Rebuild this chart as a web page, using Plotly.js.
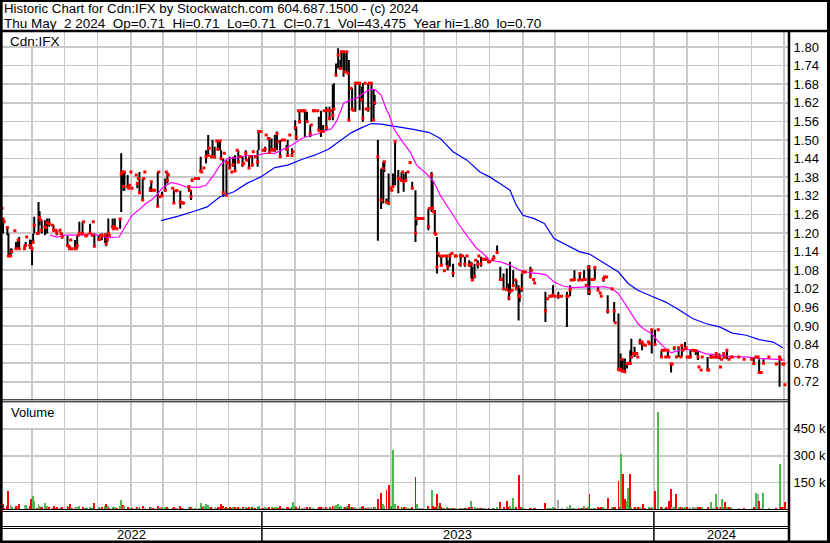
<!DOCTYPE html>
<html><head><meta charset="utf-8">
<script src="https://cdn.plot.ly/plotly-3.0.1.min.js"></script>
<style>html,body{margin:0;padding:0;background:#fff;}#chart{width:830px;height:543px;}</style>
</head><body><div id="chart"></div>
<script>
// ---------------- DATA ----------------
const dates = [
"2022-05-04","2022-05-05","2022-05-06","2022-05-09","2022-05-10","2022-05-12","2022-05-13","2022-05-16","2022-05-17","2022-05-19","2022-05-20","2022-05-25","2022-05-26","2022-05-27","2022-05-30","2022-05-31",
"2022-06-01","2022-06-02","2022-06-03","2022-06-06","2022-06-07","2022-06-08","2022-06-09","2022-06-10","2022-06-13","2022-06-14","2022-06-15","2022-06-17","2022-06-20","2022-06-21","2022-06-23","2022-06-24","2022-06-27","2022-06-28","2022-06-29",
"2022-07-04","2022-07-05","2022-07-06","2022-07-07","2022-07-08","2022-07-11","2022-07-12","2022-07-13","2022-07-14","2022-07-15","2022-07-18","2022-07-19","2022-07-21","2022-07-22","2022-07-25","2022-07-27","2022-07-28","2022-07-29",
"2022-08-02","2022-08-03","2022-08-04","2022-08-05","2022-08-08","2022-08-09","2022-08-10","2022-08-11","2022-08-12","2022-08-15","2022-08-16","2022-08-17","2022-08-19","2022-08-22","2022-08-23","2022-08-24","2022-08-25","2022-08-26","2022-08-29","2022-08-30","2022-08-31",
"2022-09-01","2022-09-02","2022-09-06","2022-09-07","2022-09-08","2022-09-09","2022-09-12","2022-09-13","2022-09-14","2022-09-19","2022-09-20","2022-09-22","2022-09-23","2022-09-26","2022-09-27","2022-09-28","2022-09-30",
"2022-10-03","2022-10-04","2022-10-05","2022-10-06","2022-10-10","2022-10-11","2022-10-13","2022-10-14","2022-10-17","2022-10-19","2022-10-20","2022-10-25","2022-10-26","2022-10-27","2022-10-28","2022-10-31",
"2022-11-03","2022-11-05","2022-11-06","2022-11-08","2022-11-10","2022-11-12","2022-11-13","2022-11-15","2022-11-16","2022-11-18","2022-11-20","2022-11-21","2022-11-23","2022-11-24","2022-11-26","2022-11-27","2022-11-29","2022-11-30",
"2022-12-02","2022-12-04","2022-12-05","2022-12-07","2022-12-09","2022-12-10","2022-12-12","2022-12-14","2022-12-15","2022-12-17","2022-12-18","2022-12-20","2022-12-21","2022-12-23","2022-12-24","2022-12-26","2022-12-28","2022-12-29","2022-12-31",
"2023-01-02","2023-01-04","2023-01-05","2023-01-07","2023-01-08","2023-01-10","2023-01-11","2023-01-13","2023-01-15","2023-01-16","2023-01-18","2023-01-20","2023-01-22","2023-01-24","2023-01-25","2023-01-27","2023-01-29","2023-01-30",
"2023-02-01","2023-02-02","2023-02-04","2023-02-05","2023-02-07","2023-02-08","2023-02-10","2023-02-12","2023-02-15","2023-02-16","2023-02-18","2023-02-19","2023-02-22","2023-02-23","2023-02-25","2023-02-27","2023-02-28",
"2023-03-02","2023-03-03","2023-03-05","2023-03-06","2023-03-08","2023-03-09","2023-03-11","2023-03-13","2023-03-15","2023-03-16","2023-03-18","2023-03-19","2023-03-21","2023-03-22","2023-03-23","2023-03-25","2023-03-26","2023-03-27","2023-03-29","2023-03-30","2023-03-31",
"2023-04-02","2023-04-04","2023-04-05","2023-04-07","2023-04-08","2023-04-10","2023-04-11","2023-04-13","2023-04-15","2023-04-16","2023-04-19","2023-04-22","2023-04-24","2023-04-25","2023-04-27","2023-04-29",
"2023-05-01","2023-05-02","2023-05-03","2023-05-05","2023-05-08","2023-05-09","2023-05-11","2023-05-12","2023-05-13","2023-05-15","2023-05-17","2023-05-19","2023-05-21","2023-05-24","2023-05-25","2023-05-27","2023-05-29","2023-05-31",
"2023-06-05","2023-06-06","2023-06-08","2023-06-09","2023-06-10","2023-06-11","2023-06-12","2023-06-13","2023-06-14","2023-06-16","2023-06-17","2023-06-19","2023-06-20","2023-06-22","2023-06-23","2023-06-25","2023-06-27","2023-06-28","2023-06-30",
"2023-07-01","2023-07-04","2023-07-05","2023-07-07","2023-07-09","2023-07-11","2023-07-13","2023-07-15","2023-07-16","2023-07-18","2023-07-19","2023-07-21","2023-07-22","2023-07-24","2023-07-26","2023-07-28","2023-07-29","2023-07-31",
"2023-08-01","2023-08-04","2023-08-05","2023-08-08","2023-08-11","2023-08-12","2023-08-14","2023-08-17","2023-08-19","2023-08-20","2023-08-22","2023-08-23","2023-08-25","2023-08-26","2023-08-28","2023-08-29","2023-08-31",
"2023-09-01","2023-09-03","2023-09-08","2023-09-09","2023-09-11","2023-09-12","2023-09-22","2023-09-24","2023-09-26","2023-09-28","2023-09-29",
"2023-10-01","2023-10-04","2023-10-07","2023-10-12","2023-10-13","2023-10-15","2023-10-16","2023-10-18","2023-10-19","2023-10-23","2023-10-24","2023-10-26","2023-10-28","2023-10-29","2023-10-30",
"2023-11-01","2023-11-02","2023-11-04","2023-11-06","2023-11-07","2023-11-10","2023-11-12","2023-11-13","2023-11-15","2023-11-16","2023-11-18","2023-11-19","2023-11-23","2023-11-25","2023-11-26","2023-11-29","2023-11-30",
"2023-12-01","2023-12-02","2023-12-03","2023-12-05","2023-12-07","2023-12-08","2023-12-10","2023-12-11","2023-12-13","2023-12-14","2023-12-16","2023-12-17","2023-12-19","2023-12-21","2023-12-22","2023-12-24","2023-12-27","2023-12-28","2023-12-30",
"2024-01-02","2024-01-05","2024-01-08","2024-01-09","2024-01-11","2024-01-12","2024-01-14","2024-01-15","2024-01-17","2024-01-18","2024-01-20","2024-01-22","2024-01-24","2024-01-26","2024-01-27","2024-01-28","2024-01-30","2024-01-31",
"2024-02-01","2024-02-03","2024-02-04","2024-02-06","2024-02-08","2024-02-09","2024-02-11","2024-02-12","2024-02-14","2024-02-15","2024-02-20","2024-02-21","2024-02-23","2024-02-25","2024-02-26","2024-02-28","2024-02-29",
"2024-03-02","2024-03-03","2024-03-04","2024-03-06","2024-03-07","2024-03-09","2024-03-11","2024-03-13","2024-03-14","2024-03-20","2024-03-25",
"2024-04-01","2024-04-03","2024-04-05","2024-04-07","2024-04-08","2024-04-10","2024-04-12","2024-04-17","2024-04-24","2024-04-27","2024-04-28","2024-04-30",
"2024-05-01","2024-05-02"
];
const high = [
1.28,1.247,1.236,1.22,1.198,1.15,1.15,1.207,1.171,1.177,1.187,1.163,1.171,1.187,1.179,1.177,
1.149,1.198,1.252,1.198,1.30,1.27,1.241,1.241,1.241,1.218,1.247,1.247,1.225,1.225,1.209,1.209,1.209,1.198,1.198,
1.19,1.157,1.16,1.177,1.149,1.177,1.149,1.193,1.193,1.236,1.236,1.236,1.19,1.193,1.23,1.193,1.236,1.198,
1.193,1.179,1.193,1.198,1.198,1.193,1.198,1.247,1.193,1.247,1.214,1.247,1.214,1.247,1.457,1.397,1.397,1.397,1.387,1.344,1.354,
1.397,1.344,1.387,1.365,1.376,1.397,1.376,1.376,1.397,1.349,1.365,1.338,1.338,1.397,1.397,1.317,1.333,
1.376,1.397,1.397,1.387,1.344,1.338,1.336,1.336,1.336,1.297,1.297,1.354,1.336,1.338,1.376,1.376,
1.376,1.446,1.397,1.41,1.467,1.516,1.473,1.446,1.50,1.478,1.497,1.497,1.497,1.467,1.44,1.457,1.435,1.426,
1.446,1.397,1.446,1.451,1.467,1.467,1.446,1.446,1.424,1.467,1.435,1.446,1.446,1.451,1.462,1.446,1.467,1.532,1.527,
1.467,1.478,1.516,1.505,1.51,1.505,1.467,1.516,1.527,1.494,1.50,1.50,1.50,1.484,1.50,1.516,1.473,1.462,
1.564,1.543,1.594,1.594,1.594,1.594,1.594,1.591,1.548,1.548,1.594,1.594,1.594,1.575,1.594,1.548,1.594,
1.607,1.596,1.607,1.594,1.678,1.683,1.747,1.796,1.758,1.785,1.785,1.785,1.785,1.715,1.758,1.667,1.667,1.596,1.683,1.683,1.683,
1.683,1.672,1.683,1.683,1.60,1.683,1.683,1.683,1.661,1.645,1.50,1.408,1.43,1.43,1.311,1.392,
1.349,1.338,1.392,1.494,1.403,1.376,1.397,1.397,1.392,1.397,1.397,1.427,1.365,1.338,1.252,1.247,1.247,1.247,
1.279,1.279,1.397,1.37,1.268,1.274,1.196,1.187,1.139,1.126,1.123,1.126,1.078,1.128,1.112,1.134,1.134,1.101,1.126,
1.126,1.099,1.134,1.126,1.123,1.126,1.112,1.107,1.091,1.101,1.112,1.112,1.126,1.123,1.115,1.115,1.115,1.107,
1.107,1.115,1.128,1.16,1.091,1.05,1.069,1.085,1.037,1.107,1.015,1.08,1.048,1.048,1.031,1.021,1.069,
1.074,1.074,1.091,1.08,1.05,1.039,1.01,0.988,0.996,0.996,1.031,
0.996,1.01,0.996,1.01,0.996,1.031,1.048,1.048,1.08,1.048,1.069,1.048,1.08,1.05,1.031,
1.096,1.096,1.05,1.05,1.089,1.026,1.006,0.996,1.058,1.058,1.058,0.999,1.02,0.977,0.91,0.94,0.758,
0.811,0.795,0.795,0.795,0.779,0.78,0.822,0.859,0.811,0.833,0.811,0.80,0.859,0.848,0.84,0.838,0.848,0.843,0.888,
0.888,0.888,0.822,0.822,0.822,0.80,0.822,0.80,0.779,0.777,0.83,0.80,0.83,0.80,0.838,0.822,0.848,0.83,
0.80,0.80,0.822,0.822,0.82,0.822,0.822,0.768,0.758,0.80,0.80,0.758,0.806,0.80,0.80,0.814,0.80,
0.811,0.768,0.793,0.811,0.80,0.822,0.793,0.80,0.80,0.80,0.793,
0.793,0.80,0.80,0.80,0.793,0.75,0.793,0.80,0.777,0.80,0.793,0.777,
0.777,0.71
];
const low = [
1.28,1.198,1.236,1.193,1.125,1.125,1.135,1.207,1.146,1.149,1.146,1.146,1.155,1.187,1.149,1.149,
1.096,1.166,1.198,1.198,1.198,1.225,1.241,1.198,1.193,1.218,1.198,1.22,1.225,1.204,1.209,1.193,1.209,1.198,1.182,
1.157,1.157,1.146,1.177,1.149,1.146,1.149,1.149,1.193,1.193,1.193,1.236,1.19,1.193,1.198,1.193,1.236,1.157,
1.177,1.179,1.193,1.177,1.168,1.157,1.171,1.193,1.193,1.214,1.214,1.214,1.214,1.214,1.268,1.349,1.336,1.336,1.344,1.344,1.354,
1.397,1.344,1.387,1.344,1.376,1.328,1.306,1.376,1.397,1.333,1.333,1.338,1.338,1.284,1.397,1.317,1.317,
1.333,1.397,1.36,1.387,1.344,1.295,1.336,1.336,1.279,1.297,1.297,1.333,1.336,1.306,1.365,1.376,
1.376,1.397,1.397,1.41,1.424,1.446,1.473,1.446,1.446,1.44,1.497,1.467,1.467,1.435,1.317,1.457,1.322,1.426,
1.408,1.397,1.414,1.397,1.467,1.424,1.446,1.414,1.424,1.435,1.435,1.408,1.446,1.414,1.462,1.446,1.414,1.467,1.527,
1.467,1.462,1.516,1.505,1.457,1.467,1.467,1.462,1.467,1.494,1.446,1.50,1.50,1.467,1.446,1.516,1.446,1.462,
1.532,1.50,1.594,1.553,1.594,1.594,1.51,1.559,1.51,1.548,1.594,1.594,1.594,1.527,1.51,1.527,1.594,
1.532,1.596,1.564,1.594,1.564,1.596,1.704,1.731,1.731,1.731,1.704,1.715,1.72,1.715,1.564,1.667,1.596,1.596,1.591,1.683,1.683,
1.596,1.624,1.559,1.683,1.60,1.591,1.683,1.559,1.564,1.613,1.175,1.277,1.295,1.397,1.295,1.292,
1.338,1.338,1.349,1.354,1.328,1.376,1.365,1.397,1.333,1.365,1.397,1.427,1.344,1.171,1.225,1.247,1.247,1.247,
1.209,1.279,1.268,1.274,1.268,1.198,1.196,1.069,1.123,1.126,1.096,1.126,1.078,1.096,1.08,1.091,1.134,1.058,1.126,
1.126,1.099,1.091,1.126,1.091,1.126,1.091,1.053,1.048,1.053,1.112,1.085,1.126,1.091,1.115,1.115,1.115,1.107,
1.107,1.115,1.118,1.134,1.048,1.05,1.015,1.015,0.983,1.004,1.015,1.026,1.048,1.015,0.918,0.977,1.01,
1.074,1.074,1.053,1.08,1.05,1.039,0.913,0.988,0.996,0.996,0.996,
0.996,0.988,0.996,0.897,0.996,0.996,1.048,1.048,1.048,1.048,1.048,1.048,1.048,1.05,1.031,
1.0,1.0,1.05,1.05,1.05,1.015,1.006,0.996,1.043,1.058,1.058,0.94,1.015,0.913,0.91,0.758,0.758,
0.758,0.752,0.75,0.752,0.763,0.78,0.779,0.795,0.811,0.80,0.811,0.80,0.84,0.822,0.84,0.838,0.848,0.843,0.811,
0.835,0.888,0.798,0.822,0.822,0.80,0.80,0.80,0.75,0.777,0.822,0.80,0.80,0.80,0.80,0.822,0.824,0.83,
0.80,0.80,0.80,0.822,0.82,0.806,0.79,0.768,0.758,0.80,0.758,0.758,0.795,0.80,0.80,0.795,0.80,
0.793,0.768,0.793,0.795,0.80,0.793,0.793,0.80,0.80,0.80,0.793,
0.793,0.779,0.80,0.80,0.75,0.75,0.779,0.80,0.777,0.704,0.793,0.777,
0.777,0.71
];
const close = [
1.28,1.245,1.236,1.218,1.126,1.126,1.14,1.207,1.149,1.177,1.149,1.149,1.16,1.187,1.16,1.155,
1.149,1.17,1.225,1.198,1.20,1.25,1.241,1.209,1.22,1.218,1.233,1.23,1.225,1.21,1.209,1.2,1.209,1.198,1.187,
1.16,1.157,1.149,1.177,1.149,1.149,1.149,1.16,1.193,1.2,1.198,1.236,1.19,1.193,1.2,1.193,1.236,1.157,
1.18,1.179,1.193,1.19,1.193,1.165,1.179,1.2,1.193,1.22,1.214,1.22,1.214,1.245,1.39,1.397,1.35,1.397,1.35,1.344,1.354,
1.397,1.344,1.387,1.36,1.376,1.33,1.306,1.376,1.397,1.338,1.365,1.338,1.338,1.286,1.397,1.317,1.32,
1.338,1.397,1.37,1.387,1.344,1.297,1.336,1.336,1.30,1.297,1.297,1.349,1.336,1.317,1.37,1.376,
1.376,1.40,1.397,1.41,1.446,1.45,1.473,1.446,1.446,1.446,1.497,1.47,1.497,1.44,1.33,1.457,1.322,1.426,
1.41,1.397,1.42,1.40,1.467,1.43,1.446,1.42,1.424,1.457,1.435,1.41,1.446,1.42,1.462,1.446,1.43,1.527,1.527,
1.467,1.47,1.516,1.505,1.46,1.47,1.467,1.47,1.52,1.494,1.446,1.50,1.50,1.47,1.45,1.516,1.45,1.462,
1.54,1.51,1.594,1.56,1.594,1.594,1.594,1.56,1.52,1.548,1.594,1.594,1.594,1.532,1.527,1.527,1.594,
1.54,1.596,1.57,1.594,1.58,1.60,1.71,1.774,1.731,1.785,1.785,1.72,1.785,1.715,1.564,1.667,1.60,1.596,1.683,1.683,1.683,
1.683,1.63,1.57,1.683,1.60,1.60,1.683,1.683,1.564,1.62,1.446,1.306,1.408,1.43,1.30,1.295,
1.344,1.338,1.35,1.494,1.376,1.376,1.37,1.397,1.365,1.37,1.397,1.427,1.344,1.20,1.247,1.247,1.247,1.247,
1.22,1.279,1.387,1.28,1.268,1.20,1.196,1.09,1.134,1.126,1.096,1.126,1.078,1.126,1.09,1.126,1.134,1.07,1.126,
1.126,1.099,1.126,1.126,1.10,1.126,1.096,1.10,1.048,1.06,1.112,1.099,1.126,1.10,1.115,1.115,1.115,1.107,
1.107,1.115,1.12,1.137,1.05,1.05,1.02,1.017,0.99,1.01,1.015,1.03,1.048,1.02,0.999,0.994,1.02,
1.074,1.074,1.06,1.08,1.05,1.039,0.948,0.988,0.996,0.996,1.0,
0.996,0.996,0.996,0.996,0.996,1.017,1.048,1.048,1.05,1.048,1.069,1.048,1.05,1.05,1.031,
1.089,1.01,1.05,1.05,1.089,1.015,1.006,0.996,1.05,1.058,1.058,0.948,1.02,0.948,0.91,0.76,0.758,
0.76,0.793,0.755,0.752,0.777,0.78,0.779,0.80,0.811,0.81,0.811,0.80,0.848,0.848,0.84,0.838,0.848,0.843,0.888,
0.84,0.888,0.80,0.822,0.822,0.80,0.822,0.80,0.777,0.777,0.83,0.80,0.83,0.80,0.838,0.822,0.827,0.83,
0.80,0.80,0.80,0.822,0.82,0.82,0.80,0.768,0.758,0.80,0.758,0.758,0.80,0.80,0.80,0.811,0.80,
0.80,0.768,0.793,0.811,0.80,0.822,0.793,0.80,0.80,0.80,0.793,
0.793,0.779,0.80,0.80,0.75,0.75,0.78,0.80,0.777,0.80,0.793,0.777,
0.777,0.71
];
// volume in thousands of shares
const volume = [
12,28,10,22,101,26,14,8,18,20,30,27,24,10,18,60,
18,78,50,10,32,20,8,16,39,10,22,14,8,18,10,14,8,10,16,
20,12,30,10,8,16,6,15,10,18,14,8,10,8,14,10,8,35,
16,8,10,14,20,30,14,18,8,14,10,14,8,20,52,26,26,18,16,10,8,
10,8,10,14,8,16,20,8,10,14,14,8,6,22,10,8,14,
14,8,14,8,6,16,8,8,20,8,6,14,8,14,10,8,
10,38,14,22,30,24,16,12,16,14,10,14,16,30,22,10,16,8,
16,8,14,16,8,14,8,14,8,14,6,14,8,16,8,6,14,20,8,
10,14,8,8,16,14,8,14,16,8,20,8,6,14,16,8,14,40,
20,16,10,20,8,6,14,14,16,8,8,6,6,14,16,14,8,
16,8,14,8,20,20,24,30,16,20,16,16,20,8,30,14,16,8,14,8,8,
14,16,20,10,8,14,8,14,16,14,56,94,28,22,107,135,
20,12,331,28,22,10,14,8,14,14,8,8,16,179,30,10,8,8,
20,10,110,20,14,16,10,84,20,38,14,8,8,14,10,10,8,10,8,
8,6,10,6,10,8,14,45,14,14,8,10,8,10,8,6,6,8,
8,8,10,14,40,8,16,50,16,20,8,63,10,14,191,16,14,
8,6,10,6,8,8,38,10,8,8,14,
8,52,8,16,8,24,8,8,10,8,10,8,22,8,8,
14,84,8,8,10,14,8,16,16,8,8,63,14,16,16,157,14,
312,16,200,60,45,122,200,16,8,14,8,14,16,10,28,8,14,8,16,
101,546,16,14,8,16,14,45,112,14,14,84,16,14,14,8,14,8,
14,8,14,16,8,14,16,14,14,16,16,8,41,8,8,88,14,
14,14,60,16,40,14,14,16,8,8,8,
8,14,90,84,45,8,92,8,8,252,14,14,
10,43.475
];
// moving averages
const maFastDates = ["2022-06-18","2022-06-24","2022-07-02","2022-07-17","2022-07-26","2022-08-02","2022-08-11","2022-08-21","2022-08-25","2022-08-30","2022-09-02","2022-09-08","2022-09-15","2022-09-20","2022-09-24","2022-09-30","2022-10-04","2022-10-09","2022-10-16","2022-10-22","2022-11-03","2022-11-10","2022-11-17","2022-11-23","2022-11-30","2022-12-09","2022-12-18","2022-12-27","2023-01-04","2023-01-13","2023-01-22","2023-01-29","2023-02-07","2023-02-13","2023-02-23","2023-02-28","2023-03-07","2023-03-12","2023-03-18","2023-03-24","2023-03-30","2023-04-05","2023-04-12","2023-04-16","2023-04-22","2023-04-27","2023-04-29","2023-05-03","2023-05-05","2023-05-12","2023-05-19","2023-05-25","2023-06-03","2023-06-10","2023-06-16","2023-06-25","2023-07-04","2023-07-14","2023-07-20","2023-07-26","2023-08-01","2023-08-11","2023-08-20","2023-08-29","2023-09-08","2023-09-17","2023-09-23","2023-09-30","2023-10-09","2023-10-18","2023-10-29","2023-11-16","2023-11-23","2023-11-29","2023-12-05","2023-12-11","2023-12-17","2023-12-22","2023-12-30","2024-01-04","2024-01-11","2024-01-17","2024-01-25","2024-01-31","2024-02-09","2024-02-18","2024-03-02","2024-03-14","2024-03-27","2024-04-08","2024-04-21","2024-05-02"];
const maFast = [1.193,1.187,1.193,1.193,1.198,1.193,1.185,1.187,1.209,1.236,1.257,1.273,1.295,1.306,1.319,1.344,1.354,1.363,1.357,1.349,1.347,1.354,1.386,1.419,1.44,1.443,1.45,1.45,1.457,1.457,1.473,1.484,1.505,1.512,1.521,1.527,1.537,1.564,1.618,1.629,1.634,1.65,1.663,1.663,1.645,1.597,1.586,1.545,1.53,1.494,1.462,1.419,1.392,1.365,1.322,1.274,1.225,1.177,1.15,1.134,1.112,1.107,1.096,1.08,1.071,1.069,1.064,1.042,1.028,1.024,1.026,1.026,1.021,1.004,0.972,0.94,0.908,0.892,0.875,0.854,0.83,0.813,0.822,0.824,0.822,0.811,0.806,0.80,0.80,0.795,0.793,0.79];
const maSlowDates = ["2022-09-29","2022-10-16","2022-10-30","2022-11-11","2022-11-23","2022-12-06","2022-12-18","2022-12-31","2023-01-13","2023-01-25","2023-02-07","2023-02-19","2023-03-04","2023-03-16","2023-03-25","2023-04-04","2023-04-13","2023-04-22","2023-05-03","2023-05-09","2023-05-22","2023-06-06","2023-06-16","2023-06-28","2023-07-11","2023-07-23","2023-08-01","2023-08-11","2023-08-20","2023-08-26","2023-09-01","2023-09-11","2023-09-21","2023-09-30","2023-10-12","2023-10-24","2023-11-02","2023-11-10","2023-11-19","2023-11-29","2023-12-08","2023-12-17","2023-12-30","2024-01-12","2024-01-25","2024-02-06","2024-02-18","2024-03-02","2024-03-14","2024-03-27","2024-04-08","2024-04-21","2024-04-30"];
const maSlow = [1.24,1.255,1.27,1.284,1.317,1.333,1.36,1.381,1.411,1.419,1.437,1.451,1.47,1.50,1.523,1.54,1.553,1.551,1.545,1.543,1.534,1.524,1.505,1.462,1.435,1.397,1.381,1.359,1.338,1.289,1.257,1.247,1.231,1.182,1.16,1.139,1.132,1.115,1.096,1.074,1.037,1.015,0.996,0.977,0.951,0.924,0.908,0.897,0.877,0.87,0.856,0.848,0.83];
const priceTicks = [0.72,0.78,0.84,0.90,0.96,1.02,1.08,1.14,1.20,1.26,1.32,1.38,1.44,1.50,1.56,1.62,1.68,1.74,1.80];
const volTicks = [150,300,450];
const volTickText = ["150 k","300 k","450 k"];
const years = ["2022","2023","2024"];
const titleLine1 = "Historic Chart for Cdn:IFX by Stockwatch.com 604.687.1500 - (c) 2024";
const titleLine2 = "Thu May  2 2024  Op=0.71  Hi=0.71  Lo=0.71  Cl=0.71  Vol=43,475  Year hi=1.80  lo=0.70";
const symbolLabel = "Cdn:IFX";
const volumeLabel = "Volume";

// ---------------- LAYOUT HELPERS ----------------
const W = 830, H = 543;
const px = x => x / W;
const py = y => 1 - y / H;
const FONT = "Liberation Sans, Arial, sans-serif";
const X_RANGE = ["2022-05-04", "2024-05-05 19:00"];
const GRID = "#C8C8C8";

// price bars as vertical segments
const segX = [], segY = [];
dates.forEach((d, i) => { segX.push(d, d, null); segY.push(low[i], high[i], null); });

// volume colours: up green, down red, unchanged grey
const volColors = close.map((c, i) => {
  if (i === 0) return "#A8A8A8";
  if (c > close[i - 1]) return "#4DB84D";
  if (c < close[i - 1]) return "#FF0000";
  return "#A8A8A8";
});

const traces = [
  {type:"scatter", mode:"lines", x:segX, y:segY, xaxis:"x", yaxis:"y",
   line:{color:"#000", width:2}, hoverinfo:"skip", connectgaps:false},
  {type:"scatter", mode:"lines", x:maSlowDates, y:maSlow, xaxis:"x", yaxis:"y",
   line:{color:"#0000FF", width:1.2}, hoverinfo:"skip"},
  {type:"scatter", mode:"lines", x:maFastDates, y:maFast, xaxis:"x", yaxis:"y",
   line:{color:"#FF00FF", width:1.2}, hoverinfo:"skip"},
  {type:"scatter", mode:"markers", x:dates, y:close, xaxis:"x", yaxis:"y",
   marker:{symbol:"square", size:3, color:"#FF0000", line:{width:0}}, hoverinfo:"skip"},
  {type:"bar", x:dates, y:volume, xaxis:"x2", yaxis:"y2",
   marker:{color:volColors, line:{width:0}}, width:1.8*86400000, hoverinfo:"skip"}
];

const xCommon = {type:"date", range:X_RANGE, domain:[px(2), px(789)], showgrid:true,
  gridcolor:GRID, gridwidth:1.5, dtick:"M1", tick0:"2022-01-01", showticklabels:false,
  ticks:"", zeroline:false, showline:false, fixedrange:true};

const shapes = [];
const hline = (y, x0, x1, w) => shapes.push({type:"line", xref:"paper", yref:"paper",
  x0:px(x0), x1:px(x1), y0:py(y), y1:py(y), line:{color:"#000", width:w}});
const vline = (x, y0, y1, w) => shapes.push({type:"line", xref:"paper", yref:"paper",
  x0:px(x), x1:px(x), y0:py(y0), y1:py(y1), line:{color:"#000", width:w}});
// label boxes
shapes.push({type:"rect", xref:"paper", yref:"paper", x0:px(2.5), x1:px(63), y0:py(46), y1:py(32),
  fillcolor:"#fff", line:{width:0}, layer:"above"});
shapes.push({type:"rect", xref:"paper", yref:"paper", x0:px(2.5), x1:px(64), y0:py(427.5), y1:py(403),
  fillcolor:"#fff", line:{width:0}, layer:"above"});
// frame
hline(1, 0, 830, 2);
hline(31, 0, 830, 2.5);
vline(1.3, 0, 543, 2.7);
vline(828.5, 0, 543, 3);
hline(541.8, 0, 830, 2.5);
vline(789, 31, 543, 2.5);
hline(399.8, 0, 789, 1); hline(401.8, 0, 789, 1);
hline(509.5, 0, 789, 1); hline(511.5, 0, 789, 1);
hline(526.5, 0, 789, 1); hline(528.5, 0, 789, 1);
// year separators
years.slice(1).forEach(yr => shapes.push({type:"line", xref:"x", yref:"paper",
  x0:yr + "-01-01", x1:yr + "-01-01", y0:py(541), y1:py(511.5), line:{color:"#000", width:1.5}}));

const t0 = new Date(X_RANGE[0].replace(" ", "T") + "Z").getTime();
const t1 = new Date(X_RANGE[1].replace(" ", "T") + "Z").getTime();
const annotations = [
  {xref:"paper", yref:"paper", x:px(2), y:py(8.5), xanchor:"left", yanchor:"middle", showarrow:false,
   text:titleLine1.replace(/ /g, "\u00A0"), font:{family:FONT, size:13.25, color:"#000"}},
  {xref:"paper", yref:"paper", x:px(2), y:py(23), xanchor:"left", yanchor:"middle", showarrow:false,
   text:titleLine2.replace(/ /g, "\u00A0"), font:{family:FONT, size:13.5, color:"#000"}},
  {xref:"paper", yref:"paper", x:px(8), y:py(41), xanchor:"left", yanchor:"middle", showarrow:false,
   text:symbolLabel, font:{family:FONT, size:13.5, color:"#000"}},
  {xref:"paper", yref:"paper", x:px(9), y:py(413), xanchor:"left", yanchor:"middle", showarrow:false,
   text:volumeLabel, font:{family:FONT, size:13, color:"#000"}}
];
years.forEach(yr => {
  const a = Math.max(t0, Date.UTC(+yr, 0, 1));
  const b = Math.min(t1, Date.UTC(+yr + 1, 0, 1));
  annotations.push({xref:"x", yref:"paper", x:new Date((a + b) / 2).toISOString(), y:py(534.5),
    xanchor:"center", yanchor:"middle", showarrow:false, text:yr,
    font:{family:FONT, size:13, color:"#000"}});
});

const layout = {
  width:W, height:H, margin:{l:0, r:0, t:0, b:0}, paper_bgcolor:"#fff", plot_bgcolor:"#fff",
  showlegend:false, font:{family:FONT, size:13, color:"#000"},
  xaxis:Object.assign({}, xCommon, {anchor:"y"}),
  xaxis2:Object.assign({}, xCommon, {anchor:"y2", matches:"x"}),
  yaxis:{domain:[py(399.8), py(32)], range:[0.6618, 1.8484], side:"right", anchor:"x",
    tickvals:priceTicks, tickformat:".2f", showgrid:true, gridcolor:GRID, gridwidth:1.5,
    ticks:"outside", ticklen:1, tickcolor:"rgba(0,0,0,0)", zeroline:false, showline:false,
    tickfont:{family:FONT, size:13, color:"#000"}, fixedrange:true},
  yaxis2:{domain:[py(509.5), py(402)], range:[0, 600], side:"right", anchor:"x2",
    tickvals:volTicks, ticktext:volTickText, showgrid:true, gridcolor:GRID, gridwidth:1.5,
    ticks:"outside", ticklen:1, tickcolor:"rgba(0,0,0,0)", zeroline:false, showline:false,
    tickfont:{family:FONT, size:13, color:"#000"}, fixedrange:true},
  shapes:shapes, annotations:annotations, bargap:0
};

Plotly.newPlot("chart", traces, layout, {staticPlot:true, displayModeBar:false});
</script>
</body></html>
